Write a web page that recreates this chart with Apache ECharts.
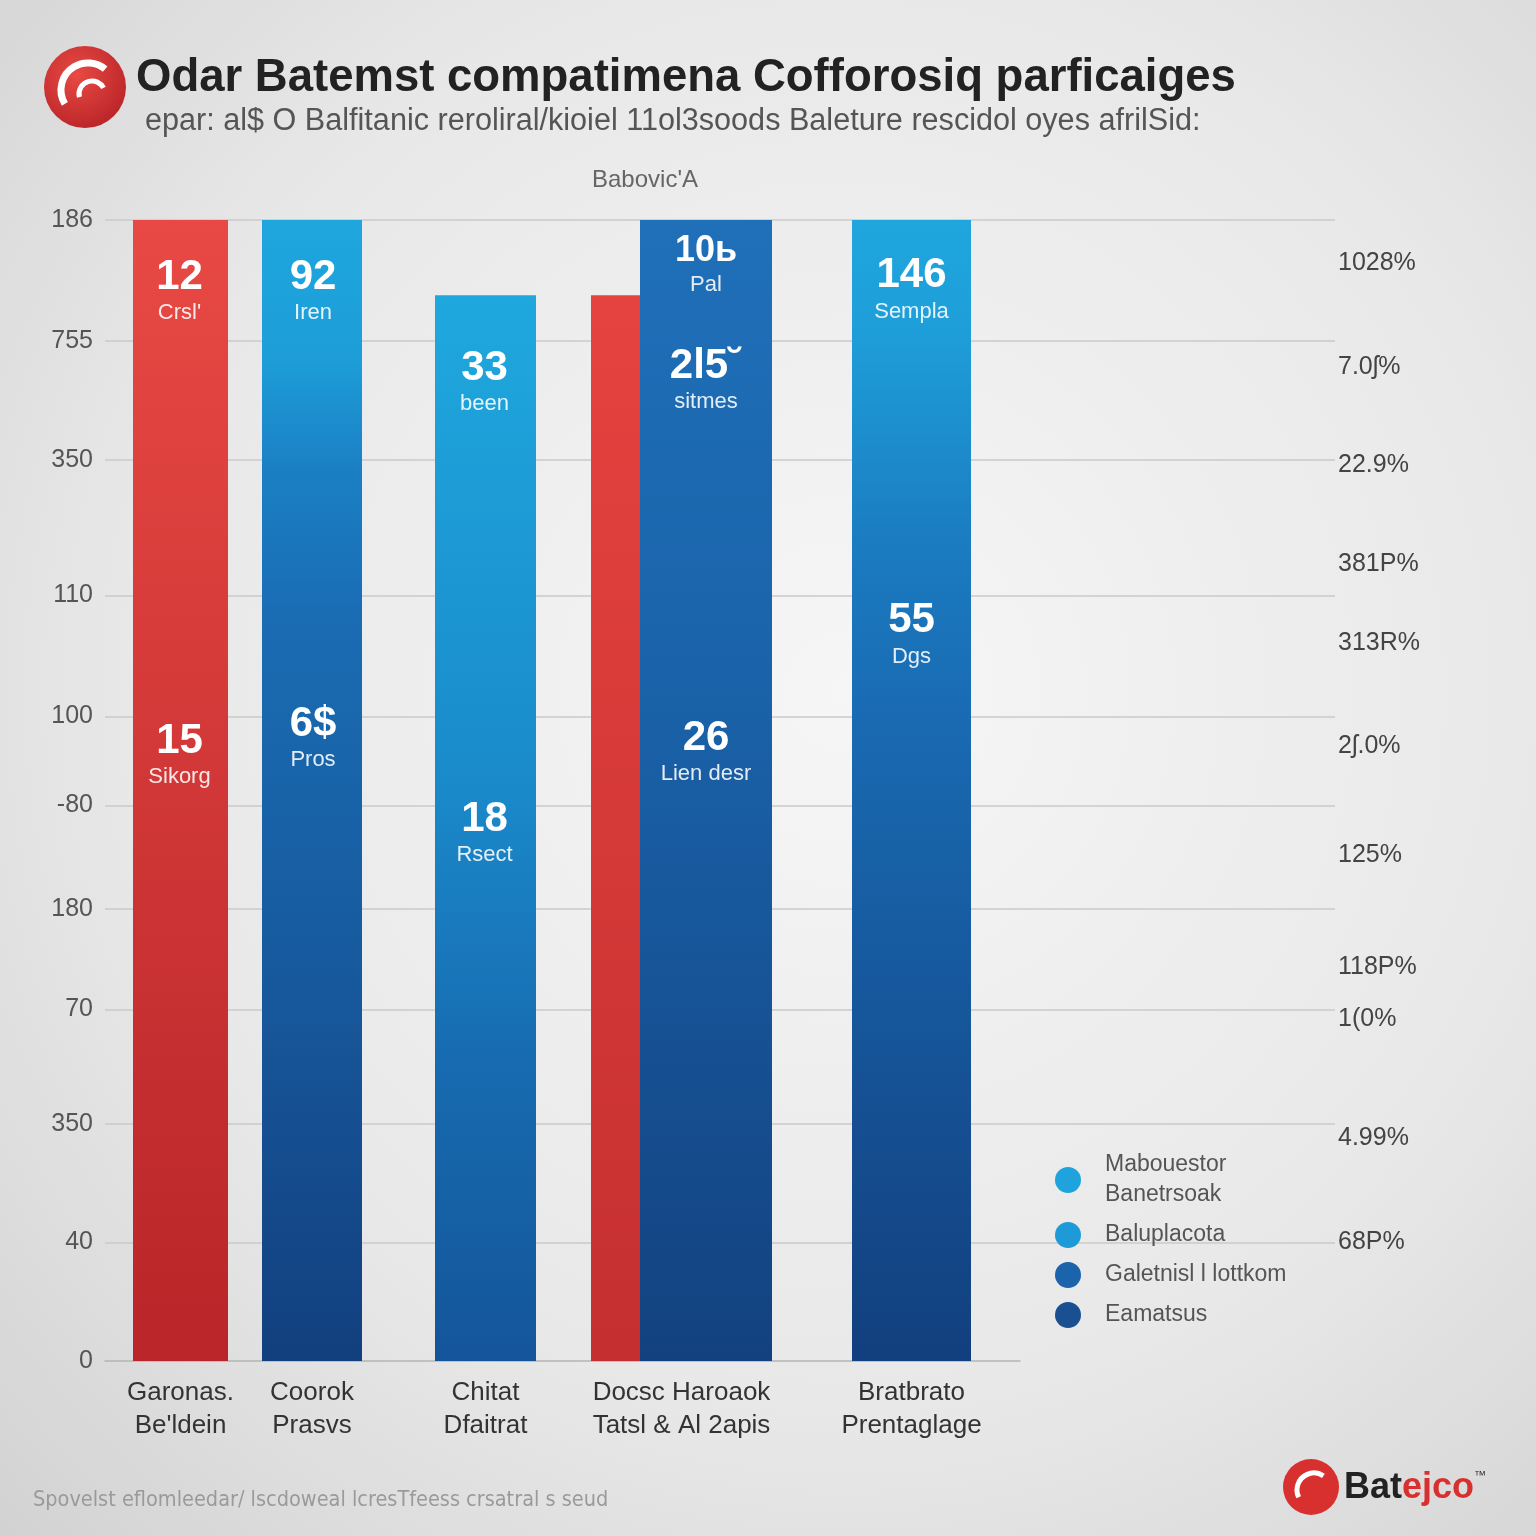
<!DOCTYPE html>
<html><head><meta charset="utf-8">
<script src="https://cdn.jsdelivr.net/npm/echarts@6/dist/echarts.min.js"></script>
<style>html,body{margin:0;padding:0;background:#e6e6e6}#c{width:1536px;height:1536px;}</style>
</head><body><div id="c"></div>
<script>
// ---------- data ----------
const categories = ["Garonas.\nBe'ldein", "Coorok\nPrasvs", "Chitat\nDfaitrat", "Docsc Haroaok\nTatsl & Al 2apis", "Bratbrato\nPrentaglage"];
const leftTickLabels  = ['0', '40', '350', '70', '180', '-80', '100', '110', '350', '755', '186'];
const leftTickValues  = [0, 10.4, 20.8, 30.8, 39.6, 48.7, 56.5, 67.1, 79.0, 89.4, 100];
const rightTickLabels = ['1028%', '7.0ʃ%', '22.9%', '381P%', '313R%', '2ʃ.0%', '125%', '118P%', '1(0%', '4.99%', '68P%'];
const rightTickValues = [96.2, 87.1, 78.5, 69.8, 62.9, 53.9, 44.3, 34.5, 30.0, 19.5, 10.4];
// bar heights: bar1, bar2, bar3, bar4 (red part), bar4 (blue part), bar5
const barHeights = [100, 100, 93.4, 93.4, 100, 100];
const legendNames = ['Mabouestor\nBanetrsoak', 'Baluplacota', 'Galetnisl l lottkom', 'Eamatsus'];
const topNumbers = ['12', '92', '33', '10ь', '146'];
const topWords   = ["Crsl'", 'Iren', 'been', 'Pal', 'Sempla'];
const midNumbers = ['15', '6$', '18', '26', '55'];
const midWords   = ['Sikorg', 'Pros', 'Rsect', 'Lien desr', 'Dgs'];
const extraNumber = '2l5˘';
const extraWord = 'sitmes';
const titleText = 'Odar Batemst compatimena Cofforosiq parficaiges';
const subtitleText = 'epar: al$ O Balfitanic reroliral/kioiel 11ol3soods Baleture rescidol oyes afrilSid:';
const axisTitle = "Babovic'A";
const footerText = 'Spovelst eflomleedar/ lscdoweal lcresTfeess crsatral s seud';

// ---------- layout / styles ----------
const FONT = "'Liberation Sans', Arial, sans-serif";
const G = echarts.graphic;
const grad = (stops) => new G.LinearGradient(0, 0, 0, 1, stops.map(s => ({offset: s[0], color: s[1]})));
const TOP = 220, BOTTOM = 1536 - 1361;

const barGrids = [
  {left: 133, width: 95},
  {left: 262, width: 100},
  {left: 435, width: 101},
  {left: 591, width: 181},
  {left: 852, width: 119}
];

const grids = [
  {left: 105, right: 201, top: TOP, bottom: BOTTOM},      // main: ticks & split lines
  {left: 105, width: 915, top: TOP, bottom: BOTTOM}       // baseline
].concat(barGrids.map(g => ({left: g.left, width: g.width, top: TOP, bottom: BOTTOM})));

const nearestIdx = (arr, v) => { let b = 0; arr.forEach((a, i) => { if (Math.abs(a - v) < Math.abs(arr[b] - v)) b = i; }); return b; };

const xAxes = [
  {gridIndex: 0, type: 'value', show: false, min: 0, max: 1},
  {gridIndex: 1, type: 'category', data: [''], axisLine: {show: true, lineStyle: {color: '#b4b4b4', width: 1.5}}, axisTick: {show: false}, axisLabel: {show: false}}
].concat(categories.map((c, i) => ({
  gridIndex: i + 2, type: 'category', data: [c],
  axisLine: {show: false}, axisTick: {show: false},
  axisLabel: {margin: 15, fontSize: 26, lineHeight: 33, color: '#333', fontFamily: FONT, interval: 0}
})));

const yAxes = [
  {gridIndex: 0, type: 'value', min: 0, max: 100, position: 'left',
   axisLine: {show: false},
   axisTick: {show: false, customValues: leftTickValues},
   axisLabel: {customValues: leftTickValues, margin: 12, fontSize: 25, color: '#555', fontFamily: FONT,
               formatter: v => leftTickLabels[nearestIdx(leftTickValues, v)]},
   splitLine: {show: true, showMinLine: false, lineStyle: {color: '#cacaca', width: 1.5}}},
  {gridIndex: 0, type: 'value', min: 0, max: 100, position: 'right',
   axisLine: {show: false}, axisTick: {show: false}, splitLine: {show: false},
   axisLabel: {customValues: rightTickValues, margin: 3, fontSize: 25, color: '#444', fontFamily: FONT,
               formatter: v => rightTickLabels[nearestIdx(rightTickValues, v)]}},
  {gridIndex: 1, type: 'value', min: 0, max: 100, show: false}
].concat(barGrids.map((g, i) => ({gridIndex: i + 2, type: 'value', min: 0, max: 100, show: false})));

const rich = {
  n:  {fontSize: 42, fontWeight: 'bold', color: '#fff', lineHeight: 40, fontFamily: FONT},
  n2: {fontSize: 36, fontWeight: 'bold', color: '#fff', lineHeight: 36, fontFamily: FONT},
  s:  {fontSize: 22, color: 'rgba(255,255,255,0.88)', lineHeight: 32, fontFamily: FONT}
};
const mp = (items, dx) => ({
  symbol: 'circle', symbolSize: 0, silent: true,
  label: {show: true, position: 'inside', offset: [dx, 0], rich: rich},
  data: items.map(it => ({coord: [0, it.y], value: 0, label: {formatter: '{' + (it.big ? 'n2' : 'n') + '|' + it.n + '}\n{s|' + it.w + '}'}}))
});

const topY = [93.6, 93.6, 85.6, 95.9, 93.7];
const midY = [52.9, 54.4, 46.1, 53.2, 63.5];
const extraY = 85.8;
const ann = (i) => [{n: topNumbers[i], w: topWords[i], y: topY[i], big: i === 3}, {n: midNumbers[i], w: midWords[i], y: midY[i]}];

const barBase = (i, name, w, color) => ({
  type: 'bar', name: name, xAxisIndex: i + 2, yAxisIndex: i + 3, barWidth: w, clip: false,
  itemStyle: {color: color}, emphasis: {disabled: true}
});

const series = [
  Object.assign(barBase(0, 'r1', 95, grad([[0, '#e84944'], [1, '#b92529']])), {data: [barHeights[0]], markPoint: mp(ann(0), -1)}),
  Object.assign(barBase(1, legendNames[0], 100, grad([[0, '#1ea6dd'], [0.12, '#1d9ed9'], [0.22, '#1b7fc4'], [0.35, '#1a6cb3'], [0.65, '#175a9e'], [1, '#123f7e']])), {data: [barHeights[1]], markPoint: mp(ann(1), 1)}),
  Object.assign(barBase(2, legendNames[1], 101, grad([[0, '#1fa8de'], [0.45, '#1a8bcb'], [0.72, '#176bb0'], [1, '#14559a']])), {data: [barHeights[2]], markPoint: mp(ann(2), -1)}),
  Object.assign(barBase(3, 'r2', 49, grad([[0, '#e5433f'], [1, '#c52f30']])), {data: [barHeights[3]], barGap: '0%'}),
  Object.assign(barBase(3, legendNames[2], 132, grad([[0, '#1f70b9'], [0.4, '#1a63aa'], [1, '#13417f']])), {data: [barHeights[4]], barGap: '0%',
     markPoint: mp(ann(3).concat([{n: extraNumber, w: extraWord, y: extraY}]), 0)}),
  Object.assign(barBase(4, legendNames[3], 119, grad([[0, '#1fa6dd'], [0.1, '#1e9ed9'], [0.28, '#1b7cc1'], [0.45, '#1969b1'], [1, '#123f7e']])), {data: [barHeights[5]], markPoint: mp(ann(4), 0)})
];

const legendColors = ['#1fa3dc', '#1e9bd7', '#1b63ab', '#1a4f92'];

const option = {
  backgroundColor: {type: 'radial', x: 0.55, y: 0.45, r: 0.78,
    colorStops: [{offset: 0, color: '#f6f6f6'}, {offset: 0.6, color: '#e8e8e8'}, {offset: 1, color: '#d2d2d2'}]},
  animation: false,
  title: [
    {text: titleText, left: 131, top: 50, textStyle: {fontSize: 45.5, fontWeight: 'bold', color: '#222', fontFamily: FONT}},
    {text: subtitleText, left: 140, top: 101, textStyle: {fontSize: 30.6, fontWeight: 'normal', color: '#555', fontFamily: FONT}}
  ],
  legend: {
    orient: 'vertical', left: 1050, top: 1145, itemWidth: 64, itemHeight: 26, itemGap: 10,
    icon: 'circle', selectedMode: false,
    textStyle: {fontSize: 23, color: '#555', lineHeight: 30, fontFamily: FONT},
    data: legendNames.map((n, i) => ({name: n, itemStyle: {color: legendColors[i]}}))
  },
  grid: grids,
  xAxis: xAxes,
  yAxis: yAxes,
  series: series,
  graphic: [
    // top-left logo
    {type: 'circle', shape: {cx: 85, cy: 87, r: 41}, style: {fill: new G.RadialGradient(0.4, 0.35, 0.8, [{offset: 0, color: '#e84a44'}, {offset: 1, color: '#b41f24'}])}},
    {type: 'arc', shape: {cx: 88, cy: 90, r: 27, startAngle: 2.6, endAngle: 5.4}, style: {stroke: '#fff', lineWidth: 7, fill: null}},
    {type: 'arc', shape: {cx: 92, cy: 94, r: 13, startAngle: 2.9, endAngle: 5.8}, style: {stroke: '#fff', lineWidth: 5, fill: null}},
    {type: 'text', x: 645, y: 180, style: {text: axisTitle, fontSize: 24, fill: '#666', align: 'center', verticalAlign: 'middle', fontFamily: FONT}},
    {type: 'text', x: 33, y: 1500, style: {text: footerText, fontSize: 21.5, fill: '#9a9a9a', verticalAlign: 'middle', fontFamily: "'Liberation Sans Narrow', 'DejaVu Sans Condensed', " + FONT}},
    // bottom-right logo
    {type: 'circle', shape: {cx: 1311, cy: 1487, r: 28}, style: {fill: '#d8302e'}},
    {type: 'arc', shape: {cx: 1314, cy: 1490, r: 17, startAngle: 2.7, endAngle: 5.3}, style: {stroke: '#fff', lineWidth: 5, fill: null}},
    {type: 'text', x: 1344, y: 1488, style: {
      text: '{a|Bat}{b|ejco}{c|™}', verticalAlign: 'middle',
      rich: {a: {fontSize: 36, fontWeight: 'bold', fill: '#222', fontFamily: FONT},
             b: {fontSize: 36, fontWeight: 'bold', fill: '#d8302e', fontFamily: FONT},
             c: {fontSize: 12, fill: '#333', verticalAlign: 'top', padding: [0, 0, 24, 0]}}}}
  ]
};
const chart = echarts.init(document.getElementById('c'));
chart.setOption(option);
</script>
</body></html>
